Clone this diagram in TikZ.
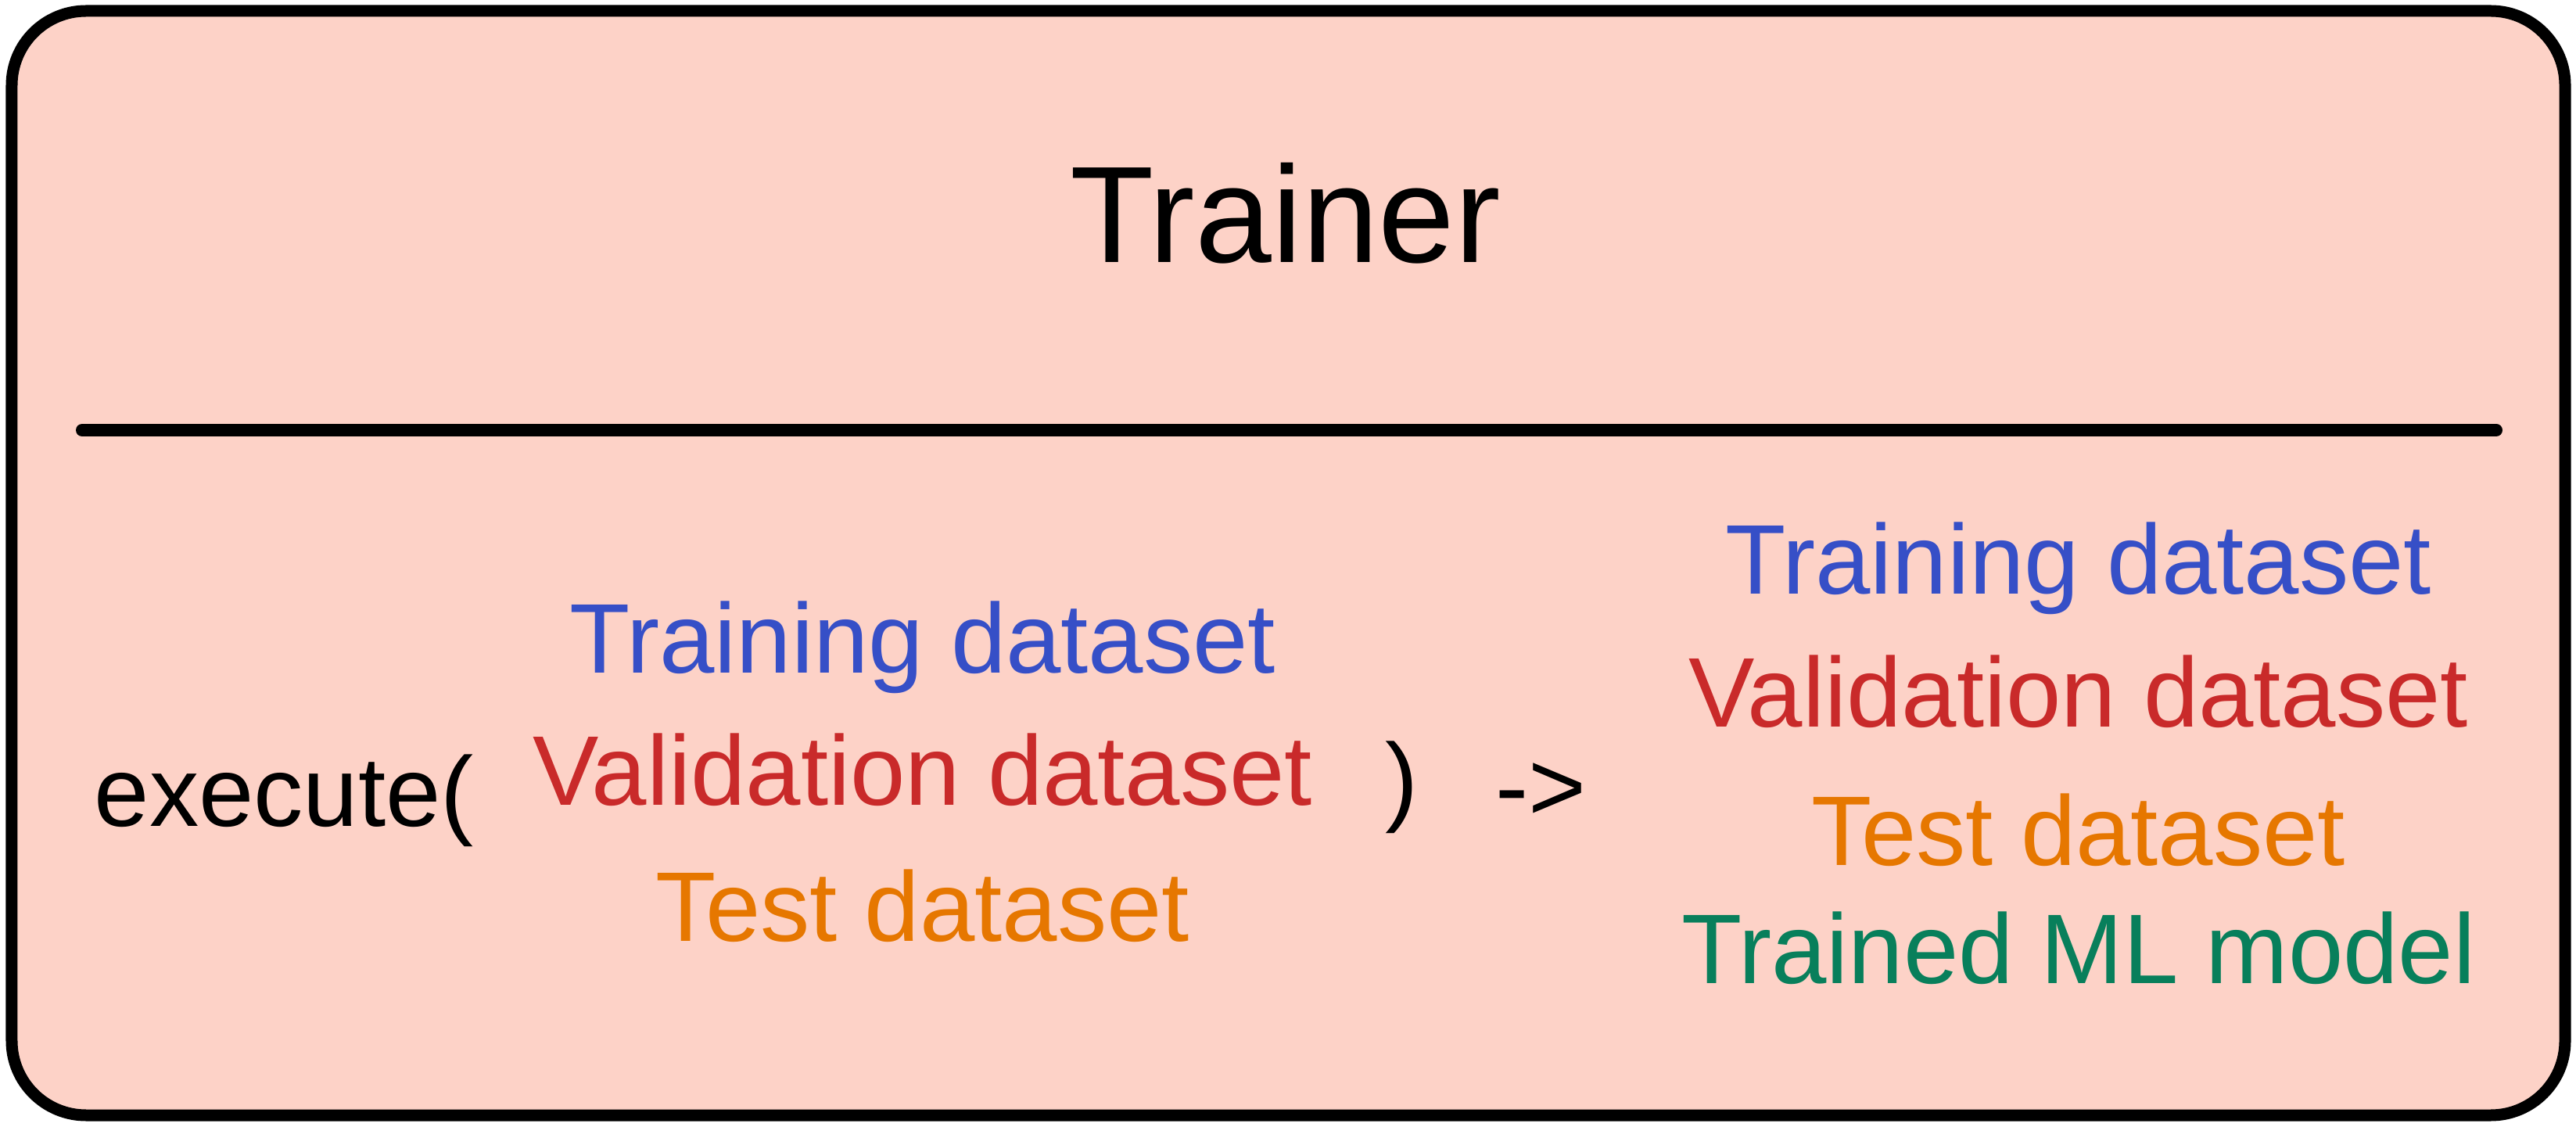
\documentclass[tikz,border=0pt]{standalone}
\usepackage{fontspec}
\setmainfont{Liberation Sans}
\definecolor{panel}{HTML}{FDD2C7}
\definecolor{blue}{HTML}{364FC7}
\definecolor{red}{HTML}{C92A2A}
\definecolor{orange}{HTML}{E67700}
\definecolor{green}{HTML}{087F5B}
\tikzset{
  item/.style = {anchor=base, inner sep=0pt, font=\fontsize{36}{40}\selectfont},
  heading/.style = {anchor=base, inner sep=0pt, font=\fontsize{50}{56}\selectfont}
}

\begin{document}
\begin{tikzpicture}
  \useasboundingbox (0,0) rectangle (32.94cm,14.4cm);
  \draw[line width=0.15cm, fill=panel, rounded corners=0.95cm] (0.15cm,0.14cm) rectangle (32.8cm,14.26cm);
  \node (T) at (16.44cm,11.04cm) [heading] {Trainer};
  \draw[line width=0.16cm, line cap=round] (1.05cm,8.9cm) -- (31.92cm,8.9cm);
  \node (E) at (1.2cm,3.84cm) [item, anchor=base west] {execute(};
  \node (L1) at (11.8cm,5.79cm) [item, blue] {Training dataset};
  \node (L2) at (11.8cm,4.11cm) [item, red] {Validation dataset};
  \node (L3) at (11.8cm,2.37cm) [item, orange] {Test dataset};
  \node (P) at (17.93cm,4.33cm) [item, anchor=center] {)};
  \node (Ar) at (19.7cm,4.27cm) [item, anchor=center] {->};
  \node (R1) at (26.58cm,6.8cm) [item, blue] {Training dataset};
  \node (R2) at (26.58cm,5.1cm) [item, red] {Validation dataset};
  \node (R3) at (26.58cm,3.34cm) [item, orange] {Test dataset};
  \node (R4) at (26.58cm,1.83cm) [item, green] {Trained ML model};
\end{tikzpicture}
\end{document}
